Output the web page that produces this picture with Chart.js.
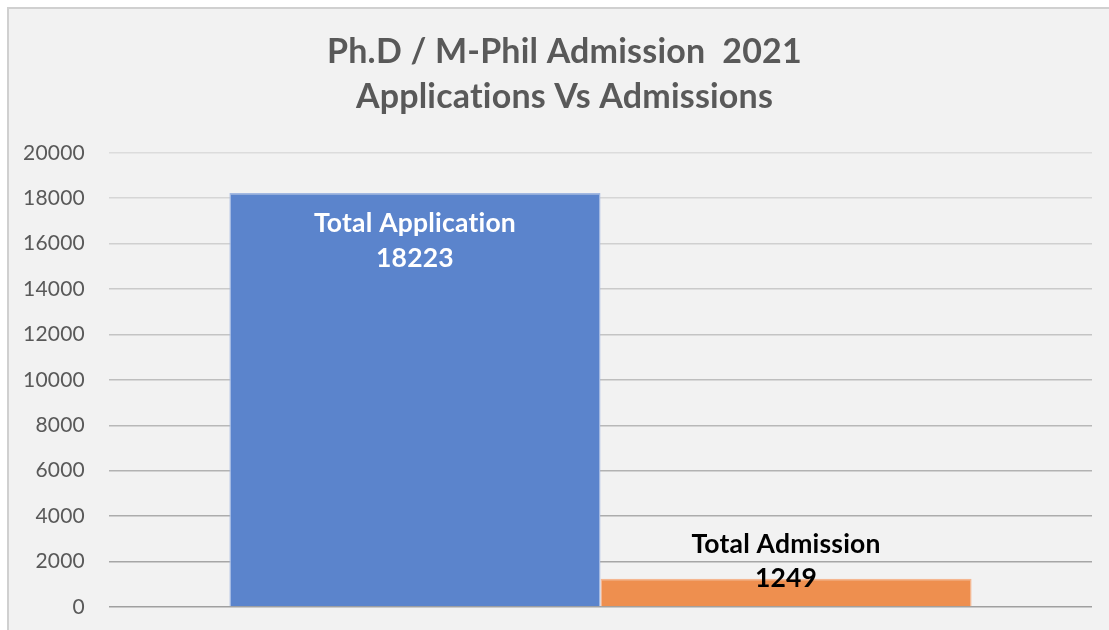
<!DOCTYPE html>
<html>
<head>
<meta charset="utf-8">
<script src="https://cdn.jsdelivr.net/npm/chart.js@4/dist/chart.umd.min.js"></script>
<style>
    html, body { margin: 0; padding: 0; background: #ffffff; }
    #frame {
        position: absolute; left: 7px; top: 7px;
        width: 1100px; height: 621px;
        border-left: 2px solid #d0d0d0; border-top: 2px solid #d0d0d0;
        background: #f2f2f2;
    }
    #chart { display: block; }
</style>
</head>
<body>
<div id="frame"><canvas id="chart" width="1100" height="621"></canvas></div>
<script>
const titleLines = ['Ph.D / M-Phil Admission  2021', 'Applications Vs Admissions'];
const categories = [''];
const seriesNames = ['Total Application', 'Total Admission'];
const applications = [18223];
const admissions = [1249];
const yTicks = [0, 2000, 4000, 6000, 8000, 10000, 12000, 14000, 16000, 18000, 20000];

// labels drawn over/inside each bar, two lines: name + value
const barLabels = {
    id: 'barLabels',
    afterDatasetsDraw(chart) {
        const ctx = chart.ctx;
        ctx.save();
        ctx.font = 'bold 26.5px Lato';
        ctx.textAlign = 'center';
        ctx.textBaseline = 'middle';
        chart.data.datasets.forEach((ds, i) => {
            const bar = chart.getDatasetMeta(i).data[0];
            const v = ds.data[0];
            if (i === 0) {
                ctx.fillStyle = '#ffffff';
                ctx.fillText(ds.label, bar.x, bar.y + 30);
                ctx.fillText(String(v), bar.x, bar.y + 65);
            } else {
                ctx.fillStyle = '#000000';
                ctx.fillText(ds.label, bar.x, bar.y - 34);
                ctx.fillText(String(v), bar.x, bar.y);
            }
        });
        ctx.restore();
    }
};

// small tweaks: no "ti" ligatures, title centred a bit right like the original
const tweaks = {
    id: 'tweaks',
    beforeDraw(chart) { chart.ctx.letterSpacing = '0.2px'; },
    afterLayout(chart) { if (chart.titleBlock) chart.titleBlock.left += 28; }
};

new Chart(document.getElementById('chart'), {
    type: 'bar',
    data: {
        labels: categories,
        datasets: [
            {
                label: seriesNames[0],
                data: applications,
                backgroundColor: '#5b84cc',
                borderColor: '#a3b9e2',
                borderWidth: 1.5,
                categoryPercentage: 0.755,
                barPercentage: 1
            },
            {
                label: seriesNames[1],
                data: admissions,
                backgroundColor: '#ee8f4f',
                borderColor: '#f5b690',
                borderWidth: 1.5,
                categoryPercentage: 0.755,
                barPercentage: 1
            }
        ]
    },
    options: {
        responsive: false,
        animation: false,
        layout: { padding: { left: 0, right: 17, top: 0, bottom: 23 } },
        plugins: {
            legend: { display: false },
            tooltip: { enabled: false },
            title: {
                display: true,
                text: titleLines,
                color: '#595959',
                font: { family: 'Lato', size: 34, weight: 'bold', lineHeight: 1.32 },
                padding: { top: 21, bottom: 33 }
            }
        },
        scales: {
            x: { display: false },
            y: {
                min: 0,
                max: 20000,
                afterBuildTicks(scale) { scale.ticks = yTicks.map(v => ({ value: v })); },
                afterFit(scale) { scale.width = 100; },
                border: { display: false },
                grid: {
                    drawTicks: true,
                    tickLength: 24,
                    tickColor: 'rgba(0,0,0,0)',
                    lineWidth: 1.5,
                    color: ctx => {
                        const t = ctx.tick ? ctx.tick.value / 20000 : 0;
                        const c = Math.round(160 + t * 60);
                        return `rgb(${c},${c},${c})`;
                    }
                },
                ticks: {
                    color: '#595959',
                    padding: 0,
                    font: { family: 'Lato', size: 21 },
                    callback: v => String(v)
                }
            }
        }
    },
    plugins: [barLabels, tweaks]
});
</script>
</body>
</html>
